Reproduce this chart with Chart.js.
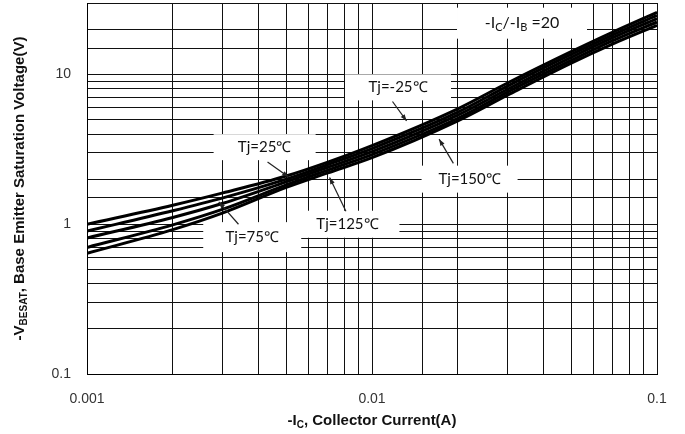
<!DOCTYPE html>
<html>
<head>
<meta charset="utf-8">
<script src="https://cdn.jsdelivr.net/npm/chart.js@4"></script>
<style>
  html, body { margin: 0; padding: 0; background: #fff; }
  #wrap { width: 685px; height: 434px; }
</style>
</head>
<body>
<div id="wrap"><canvas id="vbeChart" width="685" height="434"></canvas></div>
<script>
// Collector current (A), log axis
const currentA = [0.001, 0.002, 0.003, 0.005, 0.007, 0.01, 0.02, 0.03, 0.05, 0.07, 0.1];

// -VBE(sat) in volts for each junction temperature
const vbeTjM25 = [1.00, 1.34, 1.62, 2.10, 2.60, 3.35, 5.90, 8.80, 14.2, 19.2, 26.0];
const vbeTj25  = [0.90, 1.23, 1.50, 2.00, 2.50, 3.20, 5.60, 8.40, 13.6, 18.4, 24.8];
const vbeTj75  = [0.81, 1.11, 1.38, 1.92, 2.40, 3.05, 5.35, 8.00, 13.0, 17.6, 23.6];
const vbeTj125 = [0.70, 0.99, 1.26, 1.83, 2.30, 2.92, 5.10, 7.65, 12.4, 16.8, 22.4];
const vbeTj150 = [0.64, 0.92, 1.19, 1.76, 2.20, 2.78, 4.90, 7.30, 11.9, 16.0, 21.3];

const seriesNames = ['Tj=-25℃', 'Tj=25℃', 'Tj=75℃', 'Tj=125℃', 'Tj=150℃'];
const seriesValues = [vbeTjM25, vbeTj25, vbeTj75, vbeTj125, vbeTj150];

// tick labels shown on the axes
const xTickLabels = { 0.001: '0.001', 0.01: '0.01', 0.1: '0.1' };
const yTickLabels = { 0.1: '0.1', 1: '1', 10: '10' };

// annotation boxes: centre in data units, arrow from/to in data units
const notes = [
  { text: 'Tj=-25℃', at: [0.01234, 8.2], w: 106, h: 26, arrow: [[0.0118, 6.6], [0.01322, 4.9]] },
  { text: 'Tj=25℃', at: [0.0042, 3.27], w: 102, h: 26, arrow: [[0.0043, 2.6], [0.0051, 2.07]] },
  { text: 'Tj=150℃', at: [0.022, 2.0], w: 96, h: 27, arrow: [[0.0193, 2.55], [0.0172, 3.7]] },
  { text: 'Tj=125℃', at: [0.0082, 1.0], w: 104, h: 27, arrow: [[0.0081, 1.22], [0.0071, 2.05]] },
  { text: 'Tj=75℃', at: [0.0038, 0.82], w: 98, h: 30, arrow: [[0.0034, 1.0], [0.0029, 1.41]] }
];
const ratioNote = { at: [0.0336, 22.0], w: 130, h: 31 };

function sx(chart, v) { return chart.scales.x.getPixelForValue(v); }
function sy(chart, v) { return chart.scales.y.getPixelForValue(v); }

const annotationPlugin = {
  id: 'notes',
  beforeDatasetsDraw(chart) {
    const ctx = chart.ctx;
    ctx.save();
    ctx.fillStyle = '#fff';
    notes.forEach(n => {
      const cx = sx(chart, n.at[0]), cy = sy(chart, n.at[1]);
      ctx.fillRect(cx - n.w / 2, cy - n.h / 2, n.w, n.h);
    });
    const rx = sx(chart, ratioNote.at[0]), ry = sy(chart, ratioNote.at[1]);
    ctx.fillRect(rx - ratioNote.w / 2, ry - ratioNote.h / 2, ratioNote.w, ratioNote.h);

    // box texts
    ctx.fillStyle = '#111';
    ctx.font = '15px Lato';
    ctx.textBaseline = 'middle';
    ctx.textAlign = 'center';
    notes.forEach(n => {
      ctx.fillText(n.text, sx(chart, n.at[0]), sy(chart, n.at[1]));
    });

    // -IC/-IB =20 with subscripts
    const parts = [['-I', 0], ['C', 1], ['/-I', 0], ['B', 1], [' =20', 0]];
    const big = '16px Lato', small = '11px Lato';
    let total = 0;
    parts.forEach(p => { ctx.font = p[1] ? small : big; total += ctx.measureText(p[0]).width; });
    let px = rx - total / 2;
    ctx.textAlign = 'left';
    parts.forEach(p => {
      ctx.font = p[1] ? small : big;
      ctx.fillText(p[0], px, ry + (p[1] ? 4 : 0));
      px += ctx.measureText(p[0]).width;
    });
    ctx.restore();
  },
  afterDatasetsDraw(chart) {
    const ctx = chart.ctx;
    ctx.save();
    ctx.strokeStyle = '#222';
    ctx.fillStyle = '#222';
    ctx.lineWidth = 1.2;
    notes.forEach(n => {
      const x0 = sx(chart, n.arrow[0][0]), y0 = sy(chart, n.arrow[0][1]);
      const x1 = sx(chart, n.arrow[1][0]), y1 = sy(chart, n.arrow[1][1]);
      ctx.beginPath();
      ctx.moveTo(x0, y0);
      ctx.lineTo(x1, y1);
      ctx.stroke();
      const a = Math.atan2(y1 - y0, x1 - x0);
      ctx.beginPath();
      ctx.moveTo(x1, y1);
      ctx.lineTo(x1 - 7 * Math.cos(a - 0.35), y1 - 7 * Math.sin(a - 0.35));
      ctx.lineTo(x1 - 7 * Math.cos(a + 0.35), y1 - 7 * Math.sin(a + 0.35));
      ctx.closePath();
      ctx.fill();
    });
    ctx.restore();
  },
  afterDraw(chart) {
    const ctx = chart.ctx;
    const area = chart.chartArea;
    ctx.save();
    ctx.fillStyle = '#111';
    ctx.textBaseline = 'alphabetic';
    const big = 'bold 15px "Liberation Sans"', small = 'bold 10px "Liberation Sans"';

    // x axis title: -I_C, Collector Current(A)
    const xParts = [['-I', 0], ['C', 1], [', Collector Current(A)', 0]];
    let w = 0;
    xParts.forEach(p => { ctx.font = p[1] ? small : big; w += ctx.measureText(p[0]).width; });
    let px = (area.left + area.right) / 2 - w / 2;
    const py = 425;
    ctx.textAlign = 'left';
    xParts.forEach(p => {
      ctx.font = p[1] ? small : big;
      ctx.fillText(p[0], px, py + (p[1] ? 3 : 0));
      px += ctx.measureText(p[0]).width;
    });

    // y axis title: -V_BESAT, Base Emitter Saturation Voltage(V)
    const yParts = [['-V', 0], ['BESAT', 1], [', Base Emitter Saturation Voltage(V)', 0]];
    ctx.translate(24, (area.top + area.bottom) / 2);
    ctx.rotate(-Math.PI / 2);
    w = 0;
    yParts.forEach(p => { ctx.font = p[1] ? small : big; w += ctx.measureText(p[0]).width; });
    px = -w / 2;
    yParts.forEach(p => {
      ctx.font = p[1] ? small : big;
      ctx.fillText(p[0], px, p[1] ? 3 : 0);
      px += ctx.measureText(p[0]).width;
    });
    ctx.restore();
  }
};

const datasets = seriesValues.map((vals, i) => ({
  label: seriesNames[i],
  data: currentA.map((x, j) => ({ x: x, y: vals[j] })),
  borderColor: '#000',
  borderWidth: 3,
  pointRadius: 0,
  fill: false,
  cubicInterpolationMode: 'monotone'
}));

new Chart(document.getElementById('vbeChart'), {
  type: 'line',
  data: { datasets: datasets },
  options: {
    responsive: false,
    animation: false,
    layout: { padding: { top: 3, right: 28, left: 0, bottom: 0 } },
    plugins: {
      legend: { display: false },
      tooltip: { enabled: false }
    },
    scales: {
      x: {
        type: 'logarithmic',
        min: 0.001,
        max: 0.1,
        afterFit(scale) {
          scale.height = 60;
          scale.paddingLeft = 0;
          scale.paddingRight = 0;
        },
        border: { color: '#000', width: 1 },
        grid: { color: '#111', lineWidth: 1, drawTicks: false },
        ticks: {
          autoSkip: false,
          maxRotation: 0,
          padding: 17,
          color: '#333',
          font: { family: '"Liberation Sans"', size: 14 },
          callback(value) { return xTickLabels[value] || ''; }
        }
      },
      y: {
        type: 'logarithmic',
        min: 0.1,
        max: 30,
        afterFit(scale) {
          scale.width = 87;
          scale.paddingTop = 0;
          scale.paddingBottom = 0;
        },
        border: { color: '#000', width: 1 },
        grid: { color: '#111', lineWidth: 1, drawTicks: false },
        ticks: {
          autoSkip: false,
          padding: 16,
          color: '#333',
          font: { family: '"Liberation Sans"', size: 14 },
          callback(value) { return yTickLabels[value] || ''; }
        }
      }
    }
  },
  plugins: [annotationPlugin]
});
</script>
</body>
</html>
